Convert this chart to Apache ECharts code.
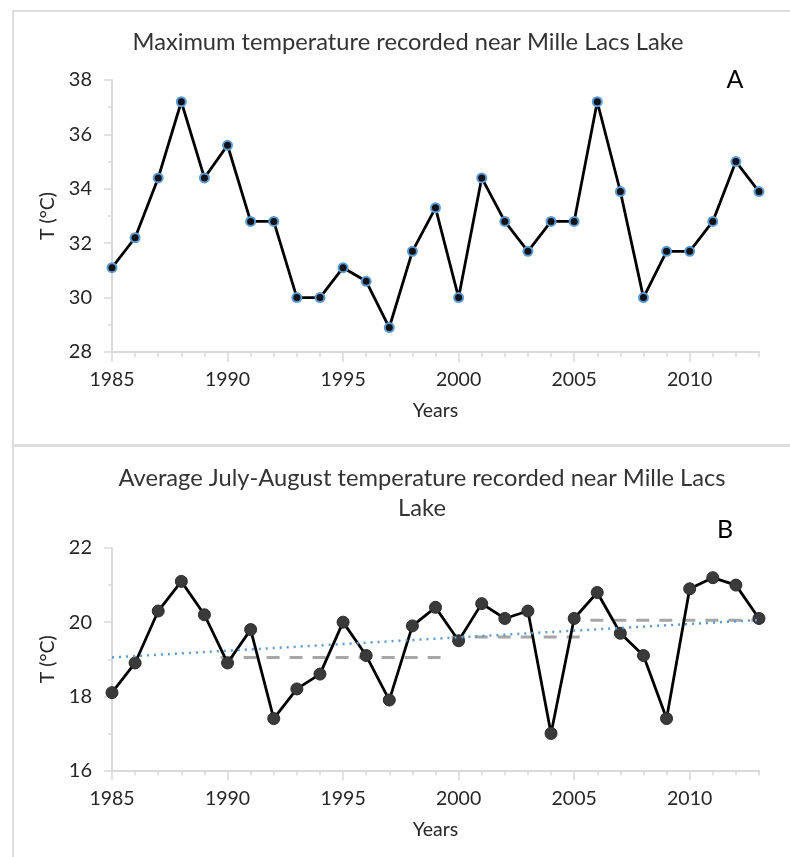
<!DOCTYPE html>
<html>
<head>
<meta charset="utf-8">
<script src="https://cdn.jsdelivr.net/npm/echarts@6/dist/echarts.min.js"></script>
<style>
  html, body { margin: 0; padding: 0; background: #fff; }
  #main { width: 790px; height: 857px; }
</style>
</head>
<body>
<div id="main"></div>
<script>
// years shared by both panels
const years = [1985, 1986, 1987, 1988, 1989, 1990, 1991, 1992, 1993, 1994,
  1995, 1996, 1997, 1998, 1999, 2000, 2001, 2002, 2003, 2004,
  2005, 2006, 2007, 2008, 2009, 2010, 2011, 2012, 2013];
const labelYears = [1985, 1990, 1995, 2000, 2005, 2010];

// panel A - maximum temperature
const maxTemp = [31.1, 32.2, 34.4, 37.2, 34.4, 35.6, 32.8, 32.8, 30.0, 30.0,
  31.1, 30.6, 28.9, 31.7, 33.3, 30.0, 34.4, 32.8, 31.7, 32.8,
  32.8, 37.2, 33.9, 30.0, 31.7, 31.7, 32.8, 35.0, 33.9];

// panel B - average july-august temperature
const avgTemp = [18.1, 18.9, 20.3, 21.1, 20.2, 18.9, 19.8, 17.4, 18.2, 18.6,
  20.0, 19.1, 17.9, 19.9, 20.4, 19.5, 20.5, 20.1, 20.3, 17.0,
  20.1, 20.8, 19.7, 19.1, 17.4, 20.9, 21.2, 21.0, 20.1];

// period means (grey dashes)
const meanStart = [1989.7, 1999.7, 2005.7];
const meanEnd = [1999.4, 2005.4, 2013.3];
const meanValue = [19.05, 19.6, 20.05];

// linear trend (blue dots)
const trendYears = [1985, 2013.3];
const trendValues = [19.05, 20.07];

const FONT = 'Lato';
const axisGrey = '#d9d9d9';
const labelColor = '#262626';

const chart = echarts.init(document.getElementById('main'));

function minorXAxis(gridIndex) {
    return {
        type: 'value', gridIndex: gridIndex,
        min: 1985, max: 2013, interval: 1,
        axisLine: { show: true, lineStyle: { color: axisGrey, width: 2 } },
        axisTick: { show: true, length: 5, lineStyle: { color: axisGrey, width: 1.5 } },
        axisLabel: { show: false },
        splitLine: { show: false }
    };
}

function majorXAxis(gridIndex) {
    return {
        type: 'value', gridIndex: gridIndex,
        min: 1985, max: 2013, interval: 5,
        position: 'bottom',
        name: 'Years', nameLocation: 'middle', nameGap: 49,
        nameTextStyle: { fontFamily: FONT, fontSize: 19.5, color: labelColor },
        axisLine: { show: false },
        axisTick: { show: true, length: 10, customValues: labelYears, lineStyle: { color: axisGrey, width: 1.5 } },
        axisLabel: {
            show: true, margin: 18, fontFamily: FONT, fontSize: 19.5, color: labelColor,
            customValues: labelYears,
            formatter: v => (v % 5 === 0 ? String(v) : '')
        },
        splitLine: { show: false }
    };
}

function yAxis(gridIndex, min, max) {
    return {
        type: 'value', gridIndex: gridIndex,
        min: min, max: max, interval: 2,
        name: 'T (°C)', nameLocation: 'middle', nameGap: 54, nameRotate: 90,
        nameTextStyle: { fontFamily: FONT, fontSize: 19.5, color: labelColor },
        axisLine: { show: true, lineStyle: { color: axisGrey, width: 2 } },
        axisTick: { show: true, length: 8, lineStyle: { color: axisGrey, width: 1.5 } },
        minorTick: { show: true, splitNumber: 2, length: 4, lineStyle: { color: axisGrey, width: 1.5 } },
        axisLabel: { margin: 20, fontFamily: FONT, fontSize: 20, color: labelColor },
        splitLine: { show: false }
    };
}

const meanSeries = meanStart.map((s, i) => ({
    type: 'line', xAxisIndex: 2, yAxisIndex: 1,
    data: [[s, meanValue[i]], [meanEnd[i], meanValue[i]]],
    symbol: 'none', clip: false, silent: true, z: 1,
    lineStyle: { color: '#a6a6a6', width: 3, type: [13, 10] }
}));

const option = {
    animation: false,
    backgroundColor: '#fff',
    textStyle: { fontFamily: FONT },
    grid: [
        { left: 112, right: 31, top: 80, bottom: 505 },
        { left: 112, right: 31, top: 548, bottom: 86.5 }
    ],
    xAxis: [minorXAxis(0), majorXAxis(0), minorXAxis(1), majorXAxis(1)],
    yAxis: [yAxis(0, 28, 38), yAxis(1, 16, 22)],
    graphic: [
        { type: 'rect', shape: { x: 13, y: 11, width: 800, height: 434 }, style: { fill: 'none', stroke: '#dedede', lineWidth: 2 }, z: -10 },
        { type: 'rect', shape: { x: 13, y: 446, width: 800, height: 430 }, style: { fill: 'none', stroke: '#dedede', lineWidth: 2 }, z: -10 },
        { type: 'text', x: 408, y: 42, style: { text: 'Maximum temperature recorded near Mille Lacs Lake', font: '23.7px Lato', fill: '#333', align: 'center', verticalAlign: 'middle' } },
        { type: 'text', x: 735, y: 80, style: { text: 'A', font: '25px Lato', fill: '#000', align: 'center', verticalAlign: 'middle' } },
        { type: 'text', x: 422, y: 493, style: { text: 'Average July-August temperature recorded near Mille Lacs\nLake', font: '23.7px Lato', lineHeight: 30, fill: '#333', align: 'center', verticalAlign: 'middle' } },
        { type: 'text', x: 725, y: 530, style: { text: 'B', font: '25px Lato', fill: '#000', align: 'center', verticalAlign: 'middle' } }
    ],
    series: [
        {
            type: 'line', xAxisIndex: 0, yAxisIndex: 0,
            data: years.map((y, i) => [y, maxTemp[i]]),
            symbol: 'circle', symbolSize: 9, z: 3,
            lineStyle: { color: '#000', width: 2.8 },
            itemStyle: { color: '#111', borderColor: '#5b9bd5', borderWidth: 2 }
        },
        ...meanSeries,
        {
            type: 'line', xAxisIndex: 2, yAxisIndex: 1,
            data: years.map((y, i) => [y, avgTemp[i]]),
            symbol: 'circle', symbolSize: 12, z: 3,
            lineStyle: { color: '#000', width: 2.8 },
            itemStyle: { color: '#3a3a3a', borderColor: '#2a2a2a', borderWidth: 1 }
        },
        {
            type: 'line', xAxisIndex: 2, yAxisIndex: 1,
            data: trendYears.map((y, i) => [y, trendValues[i]]),
            symbol: 'none', clip: false, silent: true, z: 4,
            lineStyle: { color: '#5b9bd5', width: 2.5, type: [2, 5] }
        }
    ]
};

chart.setOption(option);
</script>
</body>
</html>
